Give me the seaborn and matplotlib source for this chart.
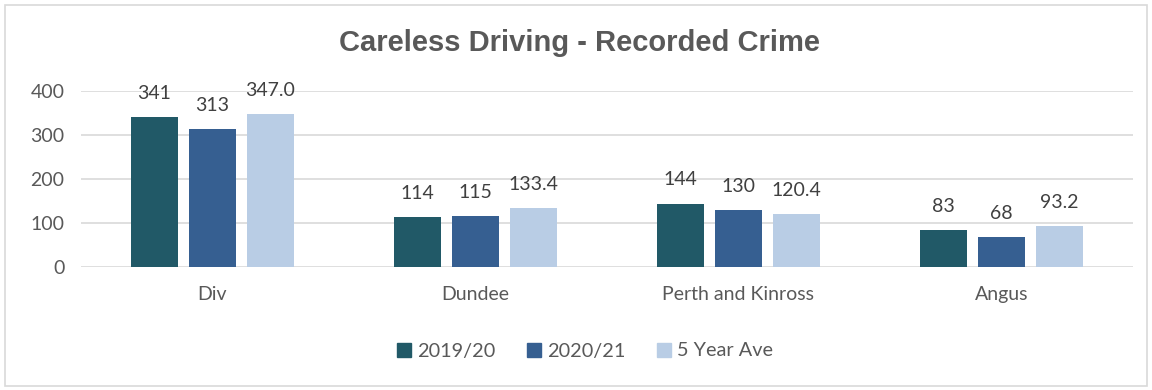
import matplotlib
matplotlib.use("Agg")
import matplotlib.pyplot as plt
import seaborn as sns
import pandas as pd
from matplotlib.patches import Rectangle

categories = ["Div", "Dundee", "Perth and Kinross", "Angus"]
series_names = ["2019/20", "2020/21", "5 Year Ave"]
v_2019 = [341, 114, 144, 83]
v_2020 = [313, 115, 130, 68]
v_5yr = [347.0, 133.4, 120.4, 93.2]
label_fmt = ["{:.0f}", "{:.0f}", "{:.1f}"]
colors = ["#215967", "#365F91", "#B9CDE5"]
yticks = [0, 100, 200, 300, 400]

rows = []
for s, vals in zip(series_names, [v_2019, v_2020, v_5yr]):
    for c, v in zip(categories, vals):
        rows.append({"cat": c, "series": s, "val": v})
df = pd.DataFrame(rows)

sns.set_theme(style="white")
plt.rcParams["font.family"] = ["Lato", "DejaVu Sans"]
txt = "#595959"

fig = plt.figure(figsize=(11.52, 3.9), dpi=100)
ax = fig.add_axes([0.0703, 0.3154, 0.9132, 0.4513])

sns.barplot(data=df, x="cat", y="val", hue="series", palette=colors,
            order=categories, hue_order=series_names,
            width=0.662, gap=0.2, ax=ax, linewidth=0, saturation=1, legend=True)

ax.set_ylim(0, 400)
ax.set_xlim(-0.5, len(categories) - 0.5)
ax.set_yticks(yticks)
ax.grid(axis="y", color="#D9D9D9", linewidth=1.2)
ax.set_axisbelow(True)
for sp in ["left", "right", "top", "bottom"]:
    ax.spines[sp].set_visible(False)
ax.set_xlabel("")
ax.set_ylabel("")
ax.tick_params(axis="both", length=0, labelsize=14, colors=txt)
ax.tick_params(axis="y", pad=12)
ax.tick_params(axis="x", pad=14)

for cont, fmt in zip(ax.containers, label_fmt):
    labels = [fmt.format(b.get_height()) for b in cont]
    ax.bar_label(cont, labels=labels, padding=11, fontsize=14, color="#404040", clip_on=False)

ax.legend_.remove()
handles = [Rectangle((0, 0), 1, 1, color=c) for c in colors]
fig.legend(handles, series_names, loc="center", bbox_to_anchor=(0.508, 0.1), ncol=3,
           frameon=False, fontsize=14.3, labelcolor=txt, handlelength=0.7, handleheight=0.7,
           handletextpad=0.3, columnspacing=1.6)

fig.text(0.503, 0.89, "Careless Driving - Recorded Crime", ha="center", va="center",
         fontsize=21, fontweight="bold", color=txt, family=["Liberation Sans", "DejaVu Sans"])

fig.patches.append(Rectangle((0.004, 0.01), 0.992, 0.978, transform=fig.transFigure,
                             fill=False, edgecolor="#D9D9D9", linewidth=1.2))

fig.savefig("out.png", dpi=100)
